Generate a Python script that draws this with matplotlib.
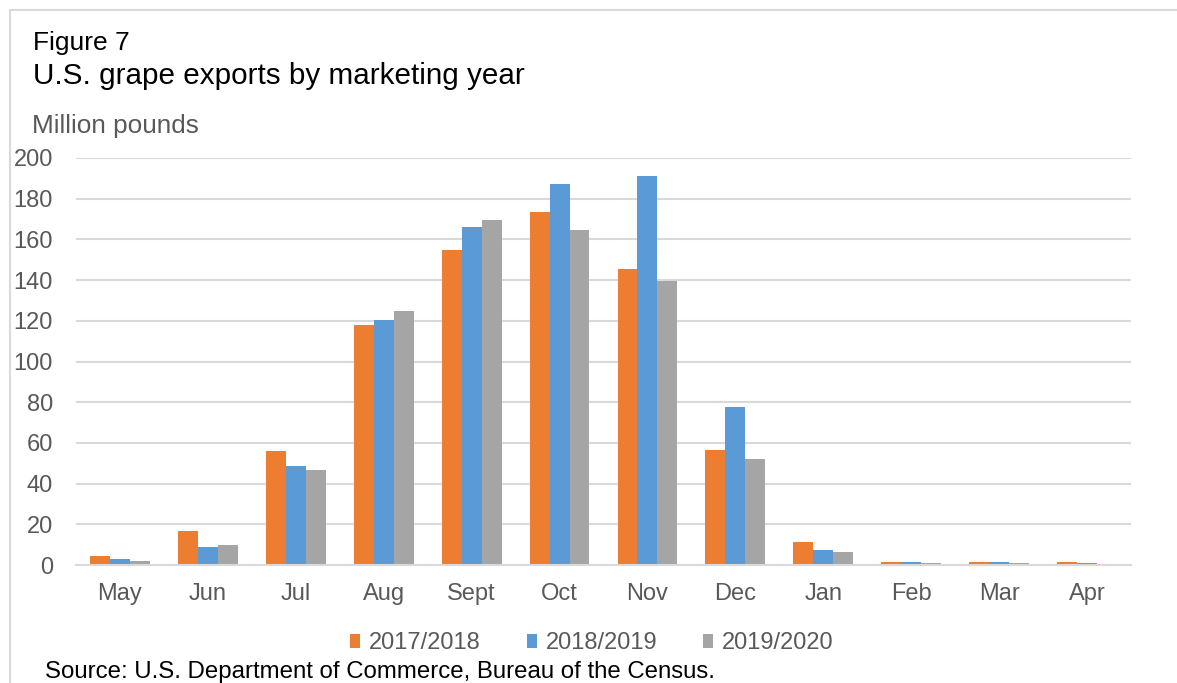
import numpy as np
import matplotlib
matplotlib.use("Agg")
import matplotlib.pyplot as plt
from matplotlib.lines import Line2D

plt.rcParams['font.family'] = ['Liberation Sans', 'DejaVu Sans']

################################ chart data ###################################
months = ['May', 'Jun', 'Jul', 'Aug', 'Sept', 'Oct', 'Nov', 'Dec', 'Jan', 'Feb', 'Mar', 'Apr']
years = ['2017/2018', '2018/2019', '2019/2020']
my_2017 = [4.6, 16.5, 55.8, 118, 155, 173.5, 145.5, 56.5, 11.2, 1.5, 1.5, 1.5]
my_2018 = [3.0, 8.7, 48.6, 120.4, 166.2, 187, 191, 77.6, 7.4, 1.5, 1.5, 1.0]
my_2019 = [1.8, 9.8, 46.7, 125, 169.5, 164.5, 139.8, 52, 6.4, 1.0, 1.0, 0.5]
yticks = [0, 20, 40, 60, 80, 100, 120, 140, 160, 180, 200]
###############################################################################

colors = ['#ED7D31', '#5B9BD5', '#A5A5A5']
series = [my_2017, my_2018, my_2019]

W, H = 1177, 683
fig = plt.figure(figsize=(W / 100, H / 100), dpi=100)
ax = fig.add_axes([76 / W, 1 - 565 / H, (1131 - 76) / W, (565 - 158) / H])

x = np.arange(len(months))
bw = 0.227
for i, (vals, col, lab) in enumerate(zip(series, colors, years)):
    ax.bar(x + (i - 1) * bw, vals, width=bw, color=col, label=lab, zorder=3)

ax.set_xlim(-0.5, len(months) - 0.5)
ax.set_ylim(0, 200)
ax.set_yticks(yticks)
ax.set_xticks(x)
ax.set_xticklabels(months)
ax.grid(axis='y', color='#D9D9D9', linewidth=1.5, zorder=0)
for side in ['top', 'right', 'left']:
    ax.spines[side].set_visible(False)
ax.spines['bottom'].set_color('#D9D9D9')
ax.spines['bottom'].set_linewidth(1.5)
ax.spines['bottom'].set_zorder(4)
ax.tick_params(axis='both', length=0, labelsize=17, colors='#595959')
ax.tick_params(axis='y', pad=16.5)
ax.tick_params(axis='x', pad=13)

# legend
leg = ax.legend(loc='center', bbox_to_anchor=(592 / W, 1 - 643 / H),
                bbox_transform=fig.transFigure, ncol=3, frameon=False,
                fontsize=17, handlelength=0.42, handleheight=0.55, handletextpad=0.38,
                columnspacing=1.95, labelcolor='#595959', borderpad=0, borderaxespad=0)

# titles
fig.text(33 / W, 1 - 50 / H, 'Figure 7', fontsize=19, va='baseline')
fig.text(33 / W, 1 - 84 / H, 'U.S. grape exports by marketing year', fontsize=21.3, va='baseline')
fig.text(32 / W, 1 - 133 / H, 'Million pounds', fontsize=18.8, va='baseline', color='#595959')
fig.text(45 / W, 1 - 678 / H, 'Source: U.S. Department of Commerce, Bureau of the Census.',
         fontsize=17.3, va='baseline')

# light frame around the chart
fig.add_artist(Line2D([10 / W, 10 / W], [0, 1 - 10 / H], color='#D9D9D9', lw=1.5))
fig.add_artist(Line2D([10 / W, 1], [1 - 10 / H, 1 - 10 / H], color='#D9D9D9', lw=1.5))

plt.savefig('out.png', dpi=100)
